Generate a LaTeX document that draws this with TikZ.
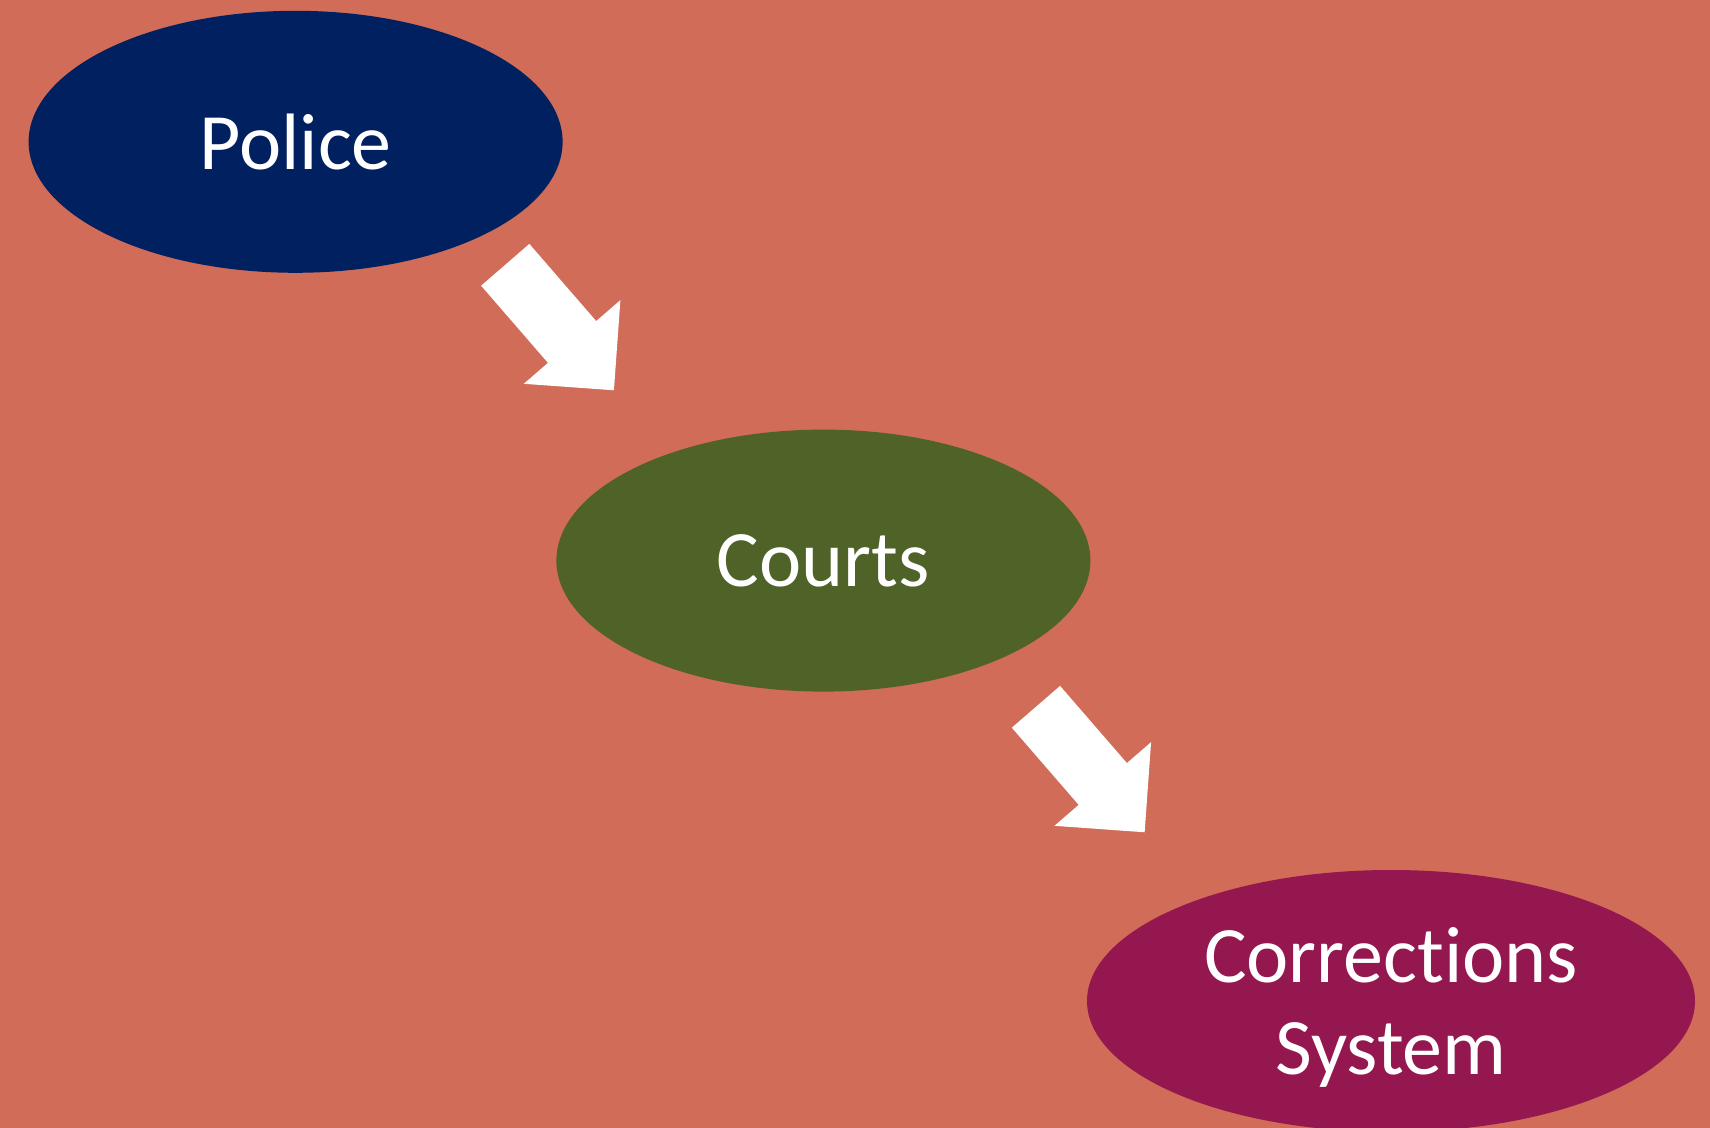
\documentclass[tikz,border=0pt]{standalone}
\usepackage{fontspec}
\setmainfont{Carlito}[Ligatures=NoCommon]
\usepackage{xcolor}
\usetikzlibrary{shapes,positioning}

\definecolor{bgsalmon}{HTML}{D06C58}
\definecolor{policeblue}{HTML}{00205F}
\definecolor{courtgreen}{HTML}{4F6228}
\definecolor{corrplum}{HTML}{95174F}

\begin{document}
\begin{tikzpicture}[x=0.5pt,y=-0.5pt,
  stage/.style={ellipse,inner sep=0pt,text=white,align=center,
    font=\fontsize{40}{46}\selectfont,minimum width=267pt,minimum height=131pt},
  blockarrow/.style={single arrow,fill=white,inner sep=0pt,text height=31.5pt,
    text depth=0pt,minimum width=63.5pt,minimum height=83pt,
    single arrow head extend=16pt,rotate=-49.1,anchor=tip}]
\useasboundingbox (0,0) rectangle (1710,1128);
\clip (0,0) rectangle (1710,1128);
\fill[bgsalmon] (0,0) rectangle (1710,1128);

% Stages of the system
\node[stage,fill=policeblue] (police) at (295.6,141.8) {Police};
\node[stage,fill=courtgreen] (courts) at (823.4,560.6) {Courts};
\node[stage,fill=corrplum,minimum width=304pt,text depth=0pt] (corrections) at (1391,1001) {Corrections\\System};

% Block arrows between stages
\coordinate (tipA) at (614.3,390.7);
\coordinate (tipB) at (1145,832.7);
\node[blockarrow] (arrowA) at (tipA) {};
\node[blockarrow] (arrowB) at (tipB) {};
\end{tikzpicture}
\end{document}
